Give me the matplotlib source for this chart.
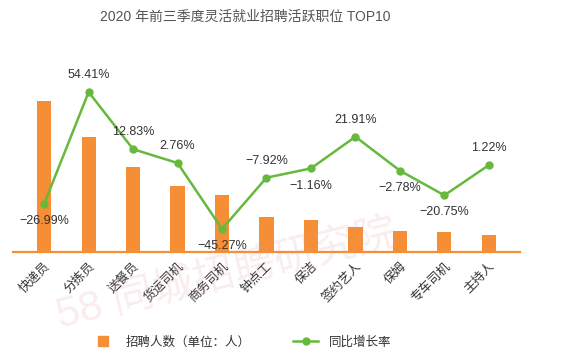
import matplotlib
matplotlib.use("Agg")
import matplotlib.pyplot as plt
from matplotlib.lines import Line2D

plt.rcParams['font.family'] = ['Liberation Sans', 'Noto Sans CJK SC', 'DejaVu Sans']

jobs = ["快递员", "分拣员", "送餐员", "货运司机", "商务司机", "钟点工",
        "保洁", "签约艺人", "保姆", "专车司机", "主持人"]
# recruit counts (relative; no axis shown)
recruits = [151, 115, 85, 66, 57, 35, 32, 25, 21, 20, 17]
growth = [-26.99, 54.41, 12.83, 2.76, -45.27, -7.92, -1.16, 21.91, -2.78, -20.75, 1.22]
label_below = [True, False, False, False, True, False, True, False, True, True, False]

orange = "#F58E35"
green = "#67B93E"

fig = plt.figure(figsize=(5.67, 3.62), dpi=100)
ax = fig.add_axes([0.023, 0.304, 0.894, 0.530])
x = range(len(jobs))
ax.bar(x, recruits, width=0.32, color=orange, zorder=2)
ax.set_xlim(-0.7, len(jobs) - 0.3)
ax.set_ylim(0, 192)
ax.set_yticks([])
for s in ["top", "right", "left"]:
    ax.spines[s].set_visible(False)
ax.spines["bottom"].set_color(orange)
ax.spines["bottom"].set_linewidth(1.6)
ax.set_xticks(list(x))
ax.set_xticklabels(jobs, rotation=45, ha="right", rotation_mode="anchor",
                   fontsize=9, color="#333333")
ax.tick_params(axis="x", length=0, pad=6)

ax2 = ax.twinx()
ax2.plot(x, growth, color=green, lw=1.8, marker="o", markersize=5, zorder=3)
ax2.set_ylim(-62, 77.7)
ax2.set_yticks([])
for s in ax2.spines.values():
    s.set_visible(False)
for i, v in enumerate(growth):
    lab = f"{v:.2f}%".replace("-", "\u2212")
    if label_below[i]:
        ax2.annotate(lab, (i, v), xytext=(0, -8), textcoords="offset points",
                     ha="center", va="top", fontsize=9, color="#333333")
    else:
        ax2.annotate(lab, (i, v), xytext=(0, 8), textcoords="offset points",
                     ha="center", va="bottom", fontsize=9, color="#333333")

fig.text(0.432, 0.953, "2020 年前三季度灵活就业招聘活跃职位 TOP10",
         ha="center", va="center", fontsize=10, color="#555555")

# watermark
fig.text(0.40, 0.24, "58 同城招聘研究院", rotation=14, ha="center", va="center",
         fontsize=30, color="#E89AA0", alpha=0.18, zorder=0)

handles = [Line2D([], [], marker="s", color=orange, ls="none", markersize=7),
           Line2D([], [], marker="o", color=green, lw=1.8, markersize=5)]
fig.legend(handles, ["招聘人数（单位：人）", "同比增长率"], loc="center",
           bbox_to_anchor=(0.425, 0.055), ncol=2, frameon=False, fontsize=9,
           columnspacing=3.4, handlelength=2, labelcolor="#333333")

plt.savefig("out.png", dpi=100)
